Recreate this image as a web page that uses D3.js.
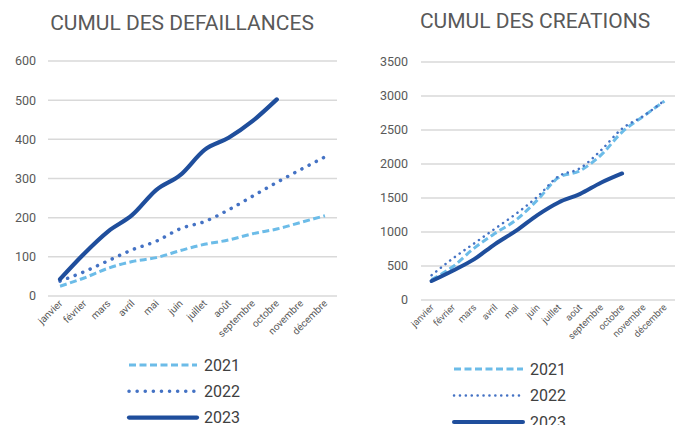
<!DOCTYPE html>
<html>
<head>
<meta charset="UTF-8">
<title>Cumul des défaillances et des créations</title>
<style>
body { margin:0; background:#fff; font-family: Roboto, "Noto Sans", sans-serif; }
svg { display:block; }
.grid line { stroke:#d9d9d9; stroke-width:1.5px; }
.ylab, .xlab { fill:#595959; }
.title { fill:#595959; font-size:21px; }
.leg { fill:#404040; font-size:16px; }
</style>
</head>
<body>
<svg width="675" height="425"></svg>
<script src="https://cdn.jsdelivr.net/npm/d3@7"></script>
<script>
const mois = ['janvier','février','mars','avril','mai','juin','juillet','août','septembre','octobre','novembre','décembre'];
const years = ['2021','2022','2023'];

// cumul des défaillances
const def2021 = [25, 46, 71, 88, 98, 116, 132, 143, 159, 171, 188, 205];
const def2022 = [38, 62, 90, 118, 140, 172, 190, 220, 255, 290, 323, 355];
const def2023 = [43, 108, 165, 207, 271, 309, 373, 404, 447, 502];
const defTicks = [0, 100, 200, 300, 400, 500, 600];

// cumul des créations
const cre2021 = [300, 490, 760, 980, 1180, 1470, 1800, 1900, 2130, 2470, 2700, 2925];
const cre2022 = [365, 610, 830, 1050, 1270, 1520, 1820, 1935, 2200, 2520, 2705, 2935];
const cre2023 = [279, 431, 597, 823, 1019, 1249, 1435, 1557, 1724, 1861];
const creTicks = [0, 500, 1000, 1500, 2000, 2500, 3000, 3500];

const colors = ['#6cbce8', '#4472c4', '#1f4e9c'];

const svg = d3.select('svg');

function drawChart(o) {
  const g = svg.append('g');
  const x = d3.scaleBand().domain(mois).range([o.x0, o.x1]);
  const y = d3.scaleLinear().domain([0, o.ticks[o.ticks.length - 1]]).range([o.y0, o.y1]);
  const cx = m => x(m) + x.bandwidth() / 2;

  g.append('text').attr('class','title')
    .attr('x', o.titleX).attr('y', o.titleY)
    .attr('text-anchor','middle').text(o.title);

  g.append('g').attr('class','grid')
    .selectAll('line').data(o.ticks).enter().append('line')
    .attr('x1', o.x0).attr('x2', o.x1)
    .attr('y1', d => y(d)).attr('y2', d => y(d));

  g.append('g').selectAll('text').data(o.ticks).enter().append('text')
    .attr('class','ylab')
    .attr('x', o.labX).attr('y', d => y(d)).attr('dy','0.35em')
    .attr('text-anchor','end').style('font-size','12.5px')
    .text(d => d);

  g.append('g').selectAll('text').data(mois).enter().append('text')
    .attr('class','xlab')
    .attr('text-anchor','end')
    .style('font-size', o.xFont)
    .attr('transform', d => `translate(${cx(d) + 3},${o.y0 + 8}) rotate(-45)`)
    .text(d => d);

  const line = d3.line()
    .x((d, i) => cx(mois[i]))
    .y(d => y(d))
    .curve(d3.curveMonotoneX);

  o.series.forEach((s, i) => {
    const st = o.styles[i];
    g.append('path').datum(s)
      .attr('d', line)
      .attr('fill','none')
      .attr('stroke', colors[i])
      .attr('stroke-width', st.w)
      .attr('stroke-linecap', st.cap)
      .attr('stroke-linejoin','round')
      .attr('stroke-dasharray', st.dash);
  });

  // légende
  years.forEach((yr, i) => {
    const st = o.styles[i];
    const ly = o.legY + i * o.legStep;
    g.append('line')
      .attr('x1', o.legX).attr('x2', o.legX + o.legW)
      .attr('y1', ly).attr('y2', ly)
      .attr('stroke', colors[i])
      .attr('stroke-width', st.w)
      .attr('stroke-linecap', st.cap)
      .attr('stroke-dasharray', st.dash);
    g.append('text').attr('class','leg')
      .attr('x', o.legX + o.legW + 7).attr('y', ly).attr('dy','0.36em')
      .text(yr);
  });
}

drawChart({
  title: 'CUMUL DES DEFAILLANCES', titleX: 182, titleY: 30,
  x0: 48, x1: 337, y0: 296, y1: 61, labX: 36, xFont: '10px',
  ticks: defTicks,
  series: [def2021, def2022, def2023],
  styles: [
    { w: 3, cap: 'butt', dash: '7,3.5' },
    { w: 3.5, cap: 'round', dash: '0.1,8' },
    { w: 4.2, cap: 'round', dash: null }
  ],
  legX: 129, legY: 365, legStep: 26.3, legW: 68
});

drawChart({
  title: 'CUMUL DES CREATIONS', titleX: 535, titleY: 28,
  x0: 421, x1: 675, y0: 300, y1: 62, labX: 408, xFont: '9.5px',
  ticks: creTicks,
  series: [cre2021, cre2022, cre2023],
  styles: [
    { w: 3, cap: 'butt', dash: '7,3.5' },
    { w: 2.5, cap: 'round', dash: '0.1,5.8' },
    { w: 4, cap: 'round', dash: null }
  ],
  legX: 454, legY: 369, legStep: 26.5, legW: 69
});
</script>
</body>
</html>
